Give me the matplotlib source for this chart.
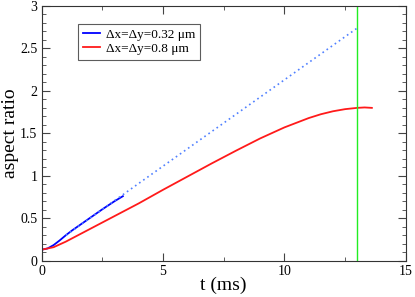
import matplotlib
matplotlib.use("Agg")
import matplotlib.pyplot as plt
from matplotlib.ticker import MultipleLocator

plt.rcParams['font.family'] = ['Liberation Serif', 'DejaVu Serif']

# fine grid (0.32 um) - simulated part
t_fine = [0.0, 0.25, 0.5, 0.75, 1.0, 1.25, 1.5, 2.0, 2.5, 3.0, 3.35]
ar_fine = [0.13, 0.145, 0.185, 0.24, 0.3, 0.355, 0.405, 0.505, 0.605, 0.7, 0.76]

# linear extrapolation of the fine run
t_extrap = [1.0, 13.0]
ar_extrap = [0.30, 2.74]

# coarse grid (0.8 um)
t_coarse = [0.0, 0.5, 1.0, 1.5, 2.0, 2.5, 3.0, 3.5, 4.0, 5.0, 6.0, 7.0, 8.0,
            9.0, 10.0, 11.0, 11.5, 12.0, 12.5, 13.0, 13.3, 13.6]
ar_coarse = [0.13, 0.16, 0.225, 0.3, 0.375, 0.45, 0.525, 0.6, 0.675, 0.835,
             0.99, 1.145, 1.295, 1.44, 1.57, 1.68, 1.725, 1.76, 1.785, 1.80,
             1.805, 1.80]

t_mark = 13.0

fig = plt.figure(figsize=(4.15, 2.97), dpi=100)
ax = fig.add_axes([0.1, 0.122, 0.878, 0.858])

ax.plot(t_fine, ar_fine, color='#0000ff', lw=1.3, label=u'\u0394x=\u0394y=0.32 \u03bcm')
ax.plot(t_extrap, ar_extrap, color='#5080ff', lw=1.2, ls=(0, (1, 2)), zorder=3)
ax.plot(t_coarse, ar_coarse, color='#ff1a1a', lw=1.3, label=u'\u0394x=\u0394y=0.8 \u03bcm')
ax.axvline(t_mark, color='#22ee22', lw=1.0)

ax.set_xlim(0, 15)
ax.set_ylim(0, 3)
ax.xaxis.set_major_locator(MultipleLocator(5))
ax.xaxis.set_minor_locator(MultipleLocator(2.5))
ax.yaxis.set_major_locator(MultipleLocator(0.5))
ax.yaxis.set_minor_locator(MultipleLocator(0.1))
ax.tick_params(which='both', direction='in', top=True, right=True, labelsize=10,
               color='#444444', pad=3)
ax.tick_params(which='major', length=6)
ax.tick_params(which='minor', length=3)
ax.yaxis.set_major_formatter(plt.FuncFormatter(lambda v, p: '%g' % v))
ax.xaxis.set_major_formatter(plt.FuncFormatter(lambda v, p: '%g' % v))
for s in ax.spines.values():
    s.set_color('#333333')

ax.set_xlabel('t (ms)', fontsize=14)
ax.set_ylabel('aspect ratio', fontsize=14)
ax.xaxis.set_label_coords(0.5, -0.062, transform=ax.transAxes)
ax.yaxis.set_label_coords(-0.063, 0.5, transform=ax.transAxes)
ax.xaxis.label.set_va('top')

leg = ax.legend(loc='upper left', bbox_to_anchor=(0.1, 0.929), fontsize=9.5,
                frameon=True, fancybox=False, handlelength=1.3, handletextpad=0.5,
                borderpad=0.35, labelspacing=0.15, borderaxespad=0)
leg.get_frame().set_edgecolor('#333333')
leg.get_frame().set_linewidth(0.8)

fig.savefig('out.png', dpi=100)
